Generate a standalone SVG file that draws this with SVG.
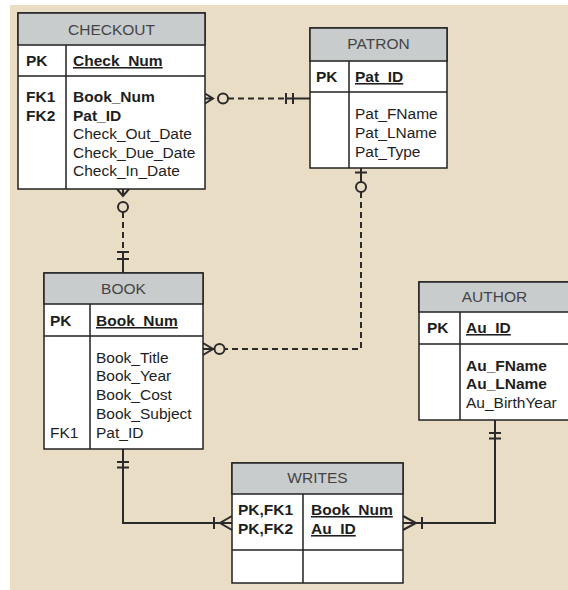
<svg xmlns="http://www.w3.org/2000/svg" width="568" height="590" viewBox="0 0 568 590">
<style>
.bg{fill:#E9DDC5}
.box{fill:#FFFFFF;stroke:#222;stroke-width:1.5}
.hdr{fill:#C9CCCD;stroke:#222;stroke-width:1.5}
.ln{stroke:#222;stroke-width:1.5;fill:none}
.t{font-family:"Liberation Sans",Arial,sans-serif;font-size:15.5px;fill:#1E1E1E}
.h{font-family:"Liberation Sans",Arial,sans-serif;font-size:15.5px;fill:#444;text-anchor:middle}
.b{font-weight:bold}
.u{text-decoration:underline}
.c{stroke:#2A2A2A;stroke-width:2;fill:none}
.d{stroke:#2A2A2A;stroke-width:2;fill:none;stroke-dasharray:6 4}
.o{stroke:#2A2A2A;stroke-width:2;fill:#E9DDC5}
</style>
<rect class="bg" x="10" y="5" width="558" height="585"/>

<g id="connectors">
  <!-- CHECKOUT - PATRON -->
  <path class="c" d="M205,98.5 H213 M205,93.5 L213,98.5 L205,103.5"/>
  <circle class="o" cx="223" cy="98.5" r="5"/>
  <path class="d" d="M228,98.5 H285"/>
  <path class="c" d="M285,98.5 H310 M286,93 V104 M293,93 V104"/>
  <!-- PATRON - BOOK -->
  <path class="c" d="M361,168 V182 M355,172.5 H367"/>
  <circle class="o" cx="361" cy="187" r="5"/>
  <path class="d" d="M361,192 V349 H225"/>
  <circle class="o" cx="219.5" cy="349" r="5"/>
  <path class="c" d="M203,349 H214.5 M203,343 L213,349 L203,355"/>
  <!-- CHECKOUT - BOOK -->
  <path class="c" d="M123,189 V196 M117,189 L123,196 L129,189"/>
  <circle class="o" cx="123" cy="207" r="5"/>
  <path class="d" d="M123,212 V251"/>
  <path class="c" d="M123,251 V273 M117,252 H129 M117,259 H129"/>
  <!-- BOOK - WRITES -->
  <path class="c" d="M123,449 V523 H232 M117,462 H129 M117,467.5 H129 M214,517 V529 M232,516 L220,523 L232,530"/>
  <!-- AUTHOR - WRITES -->
  <path class="c" d="M495,420 V523 H403 M489,433 H501 M489,438.5 H501 M422,517 V529 M403,516 L416,523 L403,530"/>
</g>

<g id="checkout">
  <rect class="box" x="18" y="13" width="187" height="176"/>
  <rect class="hdr" x="18" y="13" width="187" height="32"/>
  <path class="ln" d="M18,76 H205 M66,45 V189"/>
  <text class="h" x="111.5" y="35">CHECKOUT</text>
  <text class="t b" x="26" y="66">PK</text>
  <text class="t b u" x="73" y="66">Check_Num</text>
  <text class="t b" x="26" y="102">FK1</text>
  <text class="t b" x="26" y="120.5">FK2</text>
  <text class="t b" x="73" y="102">Book_Num</text>
  <text class="t b" x="73" y="120.5">Pat_ID</text>
  <text class="t" x="73" y="139">Check_Out_Date</text>
  <text class="t" x="73" y="157.5">Check_Due_Date</text>
  <text class="t" x="73" y="176">Check_In_Date</text>
</g>

<g id="patron">
  <rect class="box" x="310" y="28" width="137" height="140"/>
  <rect class="hdr" x="310" y="28" width="137" height="33"/>
  <path class="ln" d="M310,92 H447 M349,61 V168"/>
  <text class="h" x="378.5" y="49">PATRON</text>
  <text class="t b" x="316" y="82">PK</text>
  <text class="t b u" x="355" y="82">Pat_ID</text>
  <text class="t" x="355" y="119">Pat_FName</text>
  <text class="t" x="355" y="138">Pat_LName</text>
  <text class="t" x="355" y="156.5">Pat_Type</text>
</g>

<g id="book">
  <rect class="box" x="44" y="273" width="159" height="176"/>
  <rect class="hdr" x="44" y="273" width="159" height="31"/>
  <path class="ln" d="M44,336 H203 M90,304 V449"/>
  <text class="h" x="123.5" y="294">BOOK</text>
  <text class="t b" x="50" y="326">PK</text>
  <text class="t b u" x="96" y="326">Book_Num</text>
  <text class="t" x="96" y="362.5">Book_Title</text>
  <text class="t" x="96" y="381">Book_Year</text>
  <text class="t" x="96" y="400">Book_Cost</text>
  <text class="t" x="96" y="419">Book_Subject</text>
  <text class="t" x="50" y="437.5">FK1</text>
  <text class="t" x="96" y="437.5">Pat_ID</text>
</g>

<g id="author">
  <rect class="box" x="419" y="282" width="151" height="138"/>
  <rect class="hdr" x="419" y="282" width="151" height="30"/>
  <path class="ln" d="M419,344 H570 M460,312 V420"/>
  <text class="h" x="494.5" y="302">AUTHOR</text>
  <text class="t b" x="427" y="333">PK</text>
  <text class="t b u" x="466" y="333">Au_ID</text>
  <text class="t b" x="466" y="371">Au_FName</text>
  <text class="t b" x="466" y="389">Au_LName</text>
  <text class="t" x="466" y="408">Au_BirthYear</text>
</g>

<g id="writes">
  <rect class="box" x="232" y="463" width="171" height="120"/>
  <rect class="hdr" x="232" y="463" width="171" height="31"/>
  <path class="ln" d="M232,550 H403 M303,494 V583"/>
  <text class="h" x="317.5" y="483">WRITES</text>
  <text class="t b" x="238" y="515">PK,FK1</text>
  <text class="t b" x="238" y="534">PK,FK2</text>
  <text class="t b u" x="311" y="515">Book_Num</text>
  <text class="t b u" x="311" y="534">Au_ID</text>
</g>
</svg>
